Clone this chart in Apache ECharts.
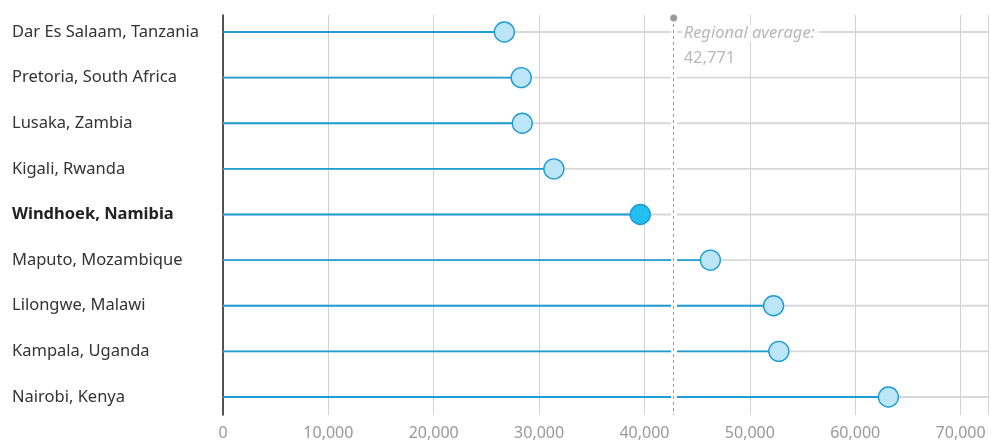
<!DOCTYPE html>
<html><head><meta charset="utf-8">
<script src="https://cdn.jsdelivr.net/npm/echarts@6/dist/echarts.min.js"></script>
<style>html,body{margin:0;padding:0;background:#fff}#c{width:991px;height:441px}</style>
</head><body><div id="c"></div>
<script>
const cities = ["Dar Es Salaam, Tanzania","Pretoria, South Africa","Lusaka, Zambia","Kigali, Rwanda","Windhoek, Namibia","Maputo, Mozambique","Lilongwe, Malawi","Kampala, Uganda","Nairobi, Kenya"];
const values = [26700, 28300, 28400, 31400, 39600, 46250, 52250, 52750, 63150];
const highlight = "Windhoek, Namibia";
const regionalAverage = 42771;
const avgLabel = "Regional average:";
const xMax = 72600;

const FONT = "Noto Sans";
const chart = echarts.init(document.getElementById('c'), null, {renderer:'canvas'});
chart.setOption({
  animation:false,
  backgroundColor:'#fff',
  grid:[
    {left:223, right:3, top:15, height:400},
    {left:223, right:3, top:9.2, height:410.6}
  ],
  xAxis:[
    {gridIndex:0, type:'value', min:0, max:xMax, interval:10000,
     axisLine:{show:false}, axisTick:{show:false},
     splitLine:{show:true, lineStyle:{color:'#d2d2d2', width:1}},
     axisLabel:{color:'#999', fontFamily:FONT, fontSize:16, margin:10,
       formatter:v=>v.toLocaleString('en-US')}},
    {gridIndex:1, type:'value', min:0, max:xMax, show:false}
  ],
  yAxis:[
    {gridIndex:0, type:'value', min:0, max:1, axisLine:{show:true, lineStyle:{color:'#222', width:1.5}},
     axisTick:{show:false}, axisLabel:{show:false}, splitLine:{show:false}},
    {gridIndex:1, type:'category', inverse:true, data:cities,
     axisLine:{show:false}, axisTick:{show:false}, splitLine:{show:false},
     axisLabel:{align:'left', margin:211, color:'#333', fontFamily:FONT, fontSize:16.5,
       formatter:v=> v===highlight ? '{b|'+v+'}' : v,
       rich:{b:{fontWeight:'bold', color:'#222', fontFamily:FONT, fontSize:16.5}}}}
  ],
  series:[
    {type:'bar', xAxisIndex:1, yAxisIndex:1, data:values, barWidth:1.8, z:1,
     itemStyle:{color:'#1f9ed6'}, showBackground:true, backgroundStyle:{color:'#d8d8d8'}, silent:true},
    {type:'line', xAxisIndex:0, yAxisIndex:0, data:[], z:2, silent:true,
     markLine:{silent:true, symbol:'none', label:{show:false},
       lineStyle:{type:'solid', color:'#fff', width:6},
       data:[[{coord:[regionalAverage,0]},{coord:[regionalAverage,1]}]]}},
    {type:'scatter', xAxisIndex:1, yAxisIndex:1, z:3, symbolSize:20,
     data:values.map((v,i)=>({value:v, itemStyle: cities[i]===highlight ?
        {color:'#22bff0', borderColor:'#1b9bd6', borderWidth:1.4, opacity:1} :
        {color:'#bde5f8', borderColor:'#1b9bd6', borderWidth:1.4, opacity:1}}))},
    {type:'scatter', xAxisIndex:0, yAxisIndex:0, z:4, silent:true,
     symbolSize:0, data:[[regionalAverage, 0.9225]],
     label:{show:true, position:'right', distance:8,
       formatter:'{a|'+avgLabel+'}\n{v|'+regionalAverage.toLocaleString('en-US')+'}',
       rich:{a:{fontStyle:'italic', color:'#a8a8a8', fontFamily:FONT, fontSize:16.5, lineHeight:25, backgroundColor:'#fff', padding:[0,4,0,2]},
             v:{color:'#a8a8a8', fontFamily:FONT, fontSize:16.5, lineHeight:25, padding:[0,0,0,2]}}},
     markLine:{silent:true, label:{show:false}, symbol:['circle','none'], symbolSize:7,
       lineStyle:{type:[3,3], color:'#9c9c9c', width:1},
       itemStyle:{color:'#a0a0a0'},
       data:[[{coord:[regionalAverage,0.9925]},{coord:[regionalAverage,0]}]]}}
  ]
});
</script></body></html>
